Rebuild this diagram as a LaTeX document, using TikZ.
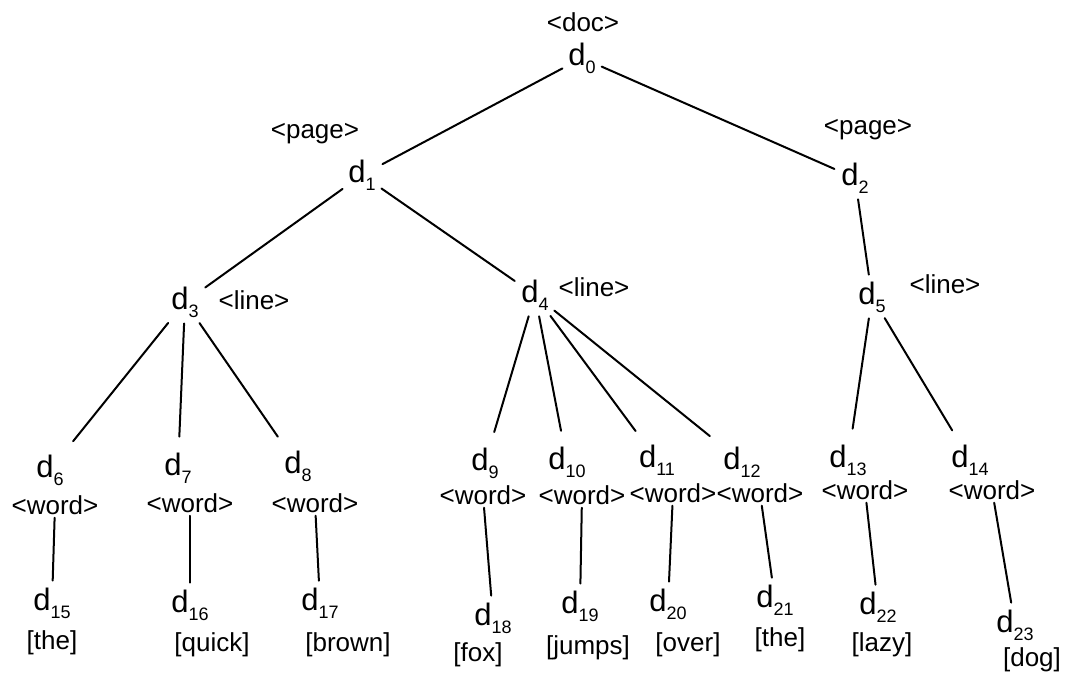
\documentclass[tikz,border=0pt]{standalone}
\usepackage{fontspec}
\setmainfont{Liberation Sans}
% document-tree node name with subscript index
\newcommand\dn[1]{{\fontsize{31}{31}\selectfont d}\raisebox{-0.3em}{\fontsize{18}{18}\selectfont #1}}
\begin{document}
\begin{tikzpicture}[x=1pt,y=-1pt,
  every node/.style={font=\fontsize{26}{30}\selectfont},
  dnode/.style={inner sep=4pt},
  tag/.style={inner sep=1pt},
  edge/.style={line width=2pt, line cap=round, shorten >=3pt, shorten <=2pt},
  longedge/.style={edge, shorten >=12pt}]
\useasboundingbox (0,0) rectangle (1078,676);

% root and pages
\node[tag]   (tdoc) at (583,22)  {<doc>};
\node[dnode] (d0)   at (582,58)  {\dn{0}};
\node[tag]   (tp1)  at (315,134) {<page>};
\node[dnode] (d1)   at (362,175) {\dn{1}};
\node[tag]   (tp2)  at (868,130) {<page>};
\node[dnode] (d2)   at (855,178) {\dn{2}};

% lines
\node[dnode] (d3) at (185,302) {\dn{3}};
\node[tag]   (tl3) at (254,300) {<line>};
\node[dnode] (d4) at (535,295) {\dn{4}};
\node[tag]   (tl4) at (594,287) {<line>};
\node[dnode] (d5) at (872,297) {\dn{5}};
\node[tag]   (tl5) at (945,284) {<line>};

% words
\node[dnode] (d6)  at (50,470)  {\dn{6}};
\node[tag]   (w6)  at (55,505)  {<word>};
\node[dnode] (d7)  at (178,468) {\dn{7}};
\node[tag]   (w7)  at (190,503) {<word>};
\node[dnode] (d8)  at (298,466) {\dn{8}};
\node[tag]   (w8)  at (315,503) {<word>};
\node[dnode] (d9)  at (485,463) {\dn{9}};
\node[tag]   (w9)  at (483,495) {<word>};
\node[dnode] (d10) at (567,462) {\dn{10}};
\node[tag]   (w10) at (582,495) {<word>};
\node[dnode] (d11) at (657,460) {\dn{11}};
\node[tag]   (w11) at (673,493) {<word>};
\node[dnode] (d12) at (742,462) {\dn{12}};
\node[tag]   (w12) at (760,493) {<word>};
\node[dnode] (d13) at (848,460) {\dn{13}};
\node[tag]   (w13) at (865,490) {<word>};
\node[dnode] (d14) at (970,460) {\dn{14}};
\node[tag]   (w14) at (992,490) {<word>};

% tokens
\node[dnode] (d15) at (52,603)   {\dn{15}};
\node[tag]   (k15) at (52,643)   {[the]};
\node[dnode] (d16) at (190,605)  {\dn{16}};
\node[tag]   (k16) at (212,645)  {[quick]};
\node[dnode] (d17) at (320,603)  {\dn{17}};
\node[tag]   (k17) at (348,645)  {[brown]};
\node[dnode] (d18) at (493,618)  {\dn{18}};
\node[tag]   (k18) at (478,655)  {[fox]};
\node[dnode] (d19) at (580,606)  {\dn{19}};
\node[tag]   (k19) at (588,648)  {[jumps]};
\node[dnode] (d20) at (668,604)  {\dn{20}};
\node[tag]   (k20) at (688,645)  {[over]};
\node[dnode] (d21) at (775,600)  {\dn{21}};
\node[tag]   (k21) at (780,640)  {[the]};
\node[dnode] (d22) at (878,607)  {\dn{22}};
\node[tag]   (k22) at (882,645)  {[lazy]};
\node[dnode] (d23) at (1015,625) {\dn{23}};
\node[tag]   (k23) at (1032,660) {[dog]};

% tree edges
\draw[edge] (d0) -- (d1);
\draw[edge] (d0) -- (d2);
\draw[edge] (d1) -- (d3);
\draw[edge] (d1) -- (d4);
\draw[edge] (d2) -- (d5);
\foreach \p/\c in {d3/d6,d3/d7,d3/d8,d4/d9,d4/d10,d4/d11,d4/d12,d5/d13,d5/d14}
  \draw[longedge] (\p) -- (\c);
\foreach \w/\c in {w6/d15,w7/d16,w8/d17,w9/d18,w10/d19,w11/d20,w12/d21,w13/d22,w14/d23}
  \draw[edge] (\w) -- (\c);
\end{tikzpicture}
\end{document}
